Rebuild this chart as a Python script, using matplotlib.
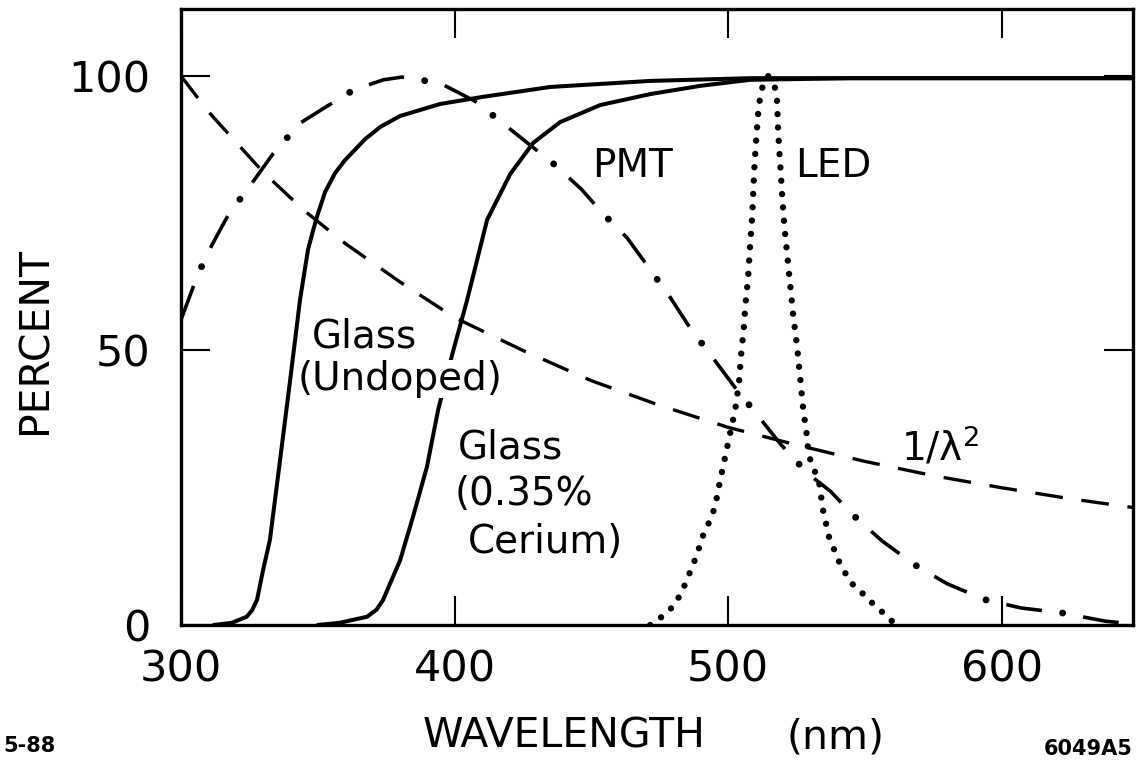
import matplotlib
matplotlib.use('Agg')
import matplotlib.pyplot as plt

plt.rcParams['lines.scale_dashes'] = False
plt.rcParams['font.family'] = ['DejaVu Sans']

# Glass (undoped) transmission, percent vs wavelength (nm)
undoped_nm = [312, 318.6, 324, 326, 327.8, 330, 332.5, 336.2, 339.9, 343.5,
              346.4, 348.3, 350.1, 352.7, 356.3, 360, 367.3, 372.8, 380, 387.4,
              394.7, 410.4, 435, 471.5, 508, 648]
undoped_pct = [0, 0.4, 1.5, 2.7, 4.6, 10, 15.5, 30, 44.6, 59.2,
               68.3, 71.9, 75, 78.9, 82.3, 84.7, 88.5, 90.7, 92.7, 93.8,
               94.9, 96.2, 98, 99.1, 99.6, 99.6]

# Glass (0.35% cerium)
cerium_nm = [350, 358, 368, 371.5, 373.9, 380.1, 384.8, 389.9, 394, 399.1,
             404.6, 411.9, 420.3, 428.7, 438.6, 453.2, 471.5, 489.8, 508, 544.6,
             648]
cerium_pct = [0, 0.4, 1.5, 2.8, 4.6, 11.8, 19.7, 28.8, 39.2, 49.2,
              59.2, 73.8, 82.1, 87.8, 91.6, 94.7, 96.7, 98.2, 99.3, 99.6,
              99.6]

# PMT response
pmt_nm = [300, 306.2, 311.3, 317.6, 324.1, 333.6, 343.5, 353.4, 362.9, 373.9,
          380.8, 394.7, 407.5, 416.6, 436.7, 446.3, 454.3, 463.1, 471.1, 478.8,
          486.1, 494.5, 502.6, 510.6, 519.4, 529.3, 537.3, 546.4, 556.3, 568.4,
          580.1, 594, 607.1, 622.1, 637.8, 648]
pmt_pct = [55.6, 63.9, 69.2, 75, 79.2, 85.8, 91.4, 94.5, 97.4, 99.3,
           99.8, 98.7, 95.4, 91.8, 83.8, 79.4, 74.9, 70.5, 65, 59.7,
           54.1, 48.6, 43.2, 38.3, 32.8, 27.5, 24.4, 19.7, 15.3, 10.9,
           7.5, 4.6, 3.1, 2.2, 0.7, 0.2]

# LED emission
led_nm = [471.5, 476.6, 480.3, 482.8, 484.6, 486.5, 488.3, 491.2, 493.4, 495.2,
          497.1, 499.3, 500.4, 502.6, 504, 504.8, 505.9, 506.2, 507.3, 508,
          508.8, 509.5, 510.2, 511, 511.7, 512.8, 514.6, 517.2, 517.9, 518.3,
          519, 519.7, 520.5, 521.6, 522.7, 523.8, 525.2, 526.3, 527.4, 528.9,
          529.3, 533.3, 534.7, 536.9, 538.8, 540.6, 542.8, 545.7, 549.7, 552.7,
          556.7, 560.3, 561.8]
led_pct = [0, 1.8, 3.6, 5.8, 7.8, 10.2, 12.4, 16.8, 19.1, 21.5,
           26.4, 31.5, 34.2, 39.2, 44.3, 49.5, 55, 57.7, 63.2, 68.9,
           74.5, 82.5, 88, 93.3, 96.2, 98.5, 100, 97.8, 95.4, 89.8,
           84.2, 78.7, 73, 67.4, 61.9, 56.3, 50.8, 45.2, 39.5, 34.1,
           31.1, 25.9, 20.9, 16, 13.7, 11.5, 9.5, 7.3, 5.5, 4,
           2.2, 0.5, 0]

# 1/lambda^2 curve
inv_nm = [300, 310, 320, 330, 345, 360, 380, 400, 425, 450,
          475, 500, 525, 550, 575, 600, 625, 648]
inv_pct = [100, 93.5, 88, 82.5, 75.5, 69.5, 62.5, 56, 50, 44.5,
           40, 36, 32.8, 29.8, 27.2, 25, 23, 21.4]

x_ticks = [300, 400, 500, 600]
y_ticks = [0, 50, 100]

W, H = 1137, 764


def fx(p):
    return p / W


def fy(p):
    return 1 - p / H


fig = plt.figure(figsize=(W / 100, H / 100), dpi=100)
ax = fig.add_axes([fx(181), fy(625), (1133 - 181) / W, (625 - 9) / H])

ax.plot(undoped_nm, undoped_pct, color='black', lw=2.9,
        solid_capstyle='round', solid_joinstyle='round')
ax.plot(cerium_nm, cerium_pct, color='black', lw=2.9,
        solid_capstyle='round', solid_joinstyle='round')
ax.plot(inv_nm, inv_pct, color='black', lw=2.4, linestyle=(0, (20, 13.5)),
        dash_capstyle='butt')
# dash-dot: long dashes plus fat dots in the gaps
ax.plot(pmt_nm, pmt_pct, color='black', lw=2.6, linestyle=(0, (26, 30)),
        dash_capstyle='butt')
ax.plot(pmt_nm, pmt_pct, color='black', lw=5, linestyle=(15, (0.01, 55.99)),
        dash_capstyle='round')
ax.plot(led_nm, led_pct, color='black', lw=4.6, linestyle=(0, (0.01, 9.6)),
        dash_capstyle='round')

ax.set_xlim(300, 648)
ax.set_ylim(0, 112.2)
ax.set_xticks(x_ticks)
ax.set_yticks(y_ticks)
ax.tick_params(direction='in', length=21, width=1.5, top=True, right=True,
               labelsize=31)
ax.tick_params(axis='x', pad=17)
ax.tick_params(axis='y', pad=22)
for s in ax.spines.values():
    s.set_linewidth(2.4)

lab = dict(fontsize=28, ha='left', va='baseline')
fig.text(fx(312), fy(347), 'Glass', **lab)
fig.text(fx(298), fy(390), '(Undoped)',
         bbox=dict(facecolor='white', edgecolor='none', pad=0), **lab)
fig.text(fx(458), fy(458), 'Glass', **lab)
fig.text(fx(455), fy(505), '(0.35%', **lab)
fig.text(fx(468), fy(553), 'Cerium)', **lab)
fig.text(fx(592), fy(177), 'PMT', **lab)
fig.text(fx(795), fy(177), 'LED', **lab)
fig.text(fx(901), fy(461), r'$\mathregular{1/\lambda^2}$', **lab)

fig.text(fx(423), fy(748), 'WAVELENGTH', fontsize=29.5, ha='left', va='baseline')
fig.text(fx(786), fy(748), '(nm)', fontsize=29.5, ha='left', va='baseline')
fig.text(fx(36), fy(340), 'PERCENT', fontsize=29.5, rotation=90,
         ha='center', va='center')
fig.text(fx(3), fy(752), '5-88', fontsize=15, fontweight='bold',
         ha='left', va='baseline')
fig.text(fx(1044), fy(755), '6049A5', fontsize=15, fontweight='bold',
         ha='left', va='baseline')

fig.savefig('out.png', dpi=100, facecolor='white')
